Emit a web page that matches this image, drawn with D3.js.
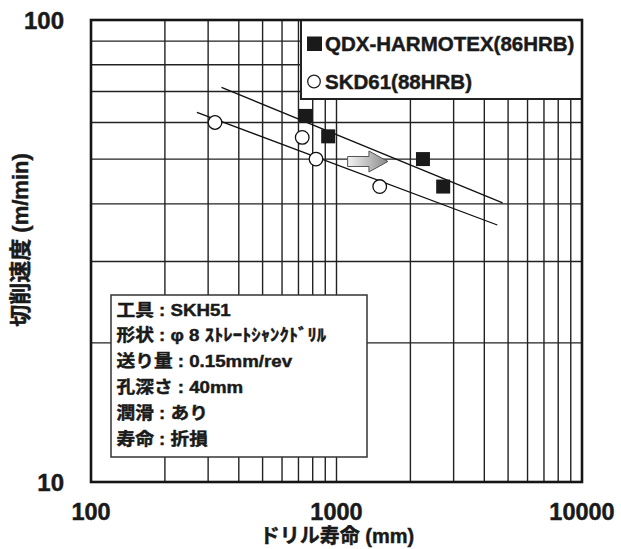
<!DOCTYPE html>
<html>
<head>
<meta charset="utf-8">
<script src="https://cdn.jsdelivr.net/npm/d3@7"></script>
<style>
  html, body { margin: 0; padding: 0; background: #fff; }
  svg { display: block; }
  text { font-family: "Liberation Sans", Arial, "Noto Sans CJK JP", sans-serif; font-weight: bold; fill: #1a1a1a; }
  text.heavy { stroke: #1a1a1a; stroke-width: 0.45; }
</style>
</head>
<body>
<svg id="chart" width="621" height="549"></svg>
<script>
// ---- data ----
const xTickLabels = [100, 1000, 10000];
const yTickLabels = [10, 100];

const qdxName = "QDX-HARMOTEX(86HRB)";
const qdxLife = [750, 925, 2250, 2720];
const qdxSpeed = [62, 56, 50, 43.6];

const skdName = "SKD61(88HRB)";
const skdLife = [320, 725, 825, 1500];
const skdSpeed = [60, 55.7, 50, 43.6];

const qdxTrendLife = [340, 4750];
const qdxTrendSpeed = [71.5, 40.2];
const skdTrendLife = [270, 4520];
const skdTrendSpeed = [63.1, 36.0];

const arrowLife = [1110, 1620];
const arrowSpeed = 49.4;

const conditionLines = [
  "工具 : SKH51",
  "形状 : φ 8 ｽﾄﾚｰﾄｼｬﾝｸﾄﾞﾘﾙ",
  "送り量 : 0.15mm/rev",
  "孔深さ : 40mm",
  "潤滑 : あり",
  "寿命 : 折損"
];

const xTitle = "ドリル寿命 (mm)";
const yTitle = "切削速度 (m/min)";

// ---- layout ----
const L = 91, R = 582, T = 20, B = 482;
const svg = d3.select("#chart");

const x = d3.scaleLog().domain([100, 10000]).range([L, R]);
const y = d3.scaleLog().domain([10, 100]).range([B, T]);

// grid
const gGrid = svg.append("g");
gGrid.selectAll("line.v").data(x.ticks()).join("line")
  .attr("x1", d => x(d)).attr("x2", d => x(d))
  .attr("y1", T).attr("y2", B)
  .attr("stroke", "#222").attr("stroke-width", 1.4);
gGrid.selectAll("line.h").data(y.ticks()).join("line")
  .attr("x1", L).attr("x2", R)
  .attr("y1", d => y(d)).attr("y2", d => y(d))
  .attr("stroke", "#222").attr("stroke-width", 1.4);

// trend lines
const line = d3.line().x(d => x(d[0])).y(d => y(d[1]));
svg.append("path")
  .attr("d", line(d3.zip(qdxTrendLife, qdxTrendSpeed)))
  .attr("fill", "none").attr("stroke", "#111").attr("stroke-width", 1.3);
svg.append("path")
  .attr("d", line(d3.zip(skdTrendLife, skdTrendSpeed)))
  .attr("fill", "none").attr("stroke", "#111").attr("stroke-width", 1.3);

// arrow
const defs = svg.append("defs");
const grad = defs.append("linearGradient").attr("id", "arrowGrad")
  .attr("x1", "0%").attr("x2", "100%").attr("y1", "0%").attr("y2", "0%");
grad.append("stop").attr("offset", "0%").attr("stop-color", "#f4f4f4");
grad.append("stop").attr("offset", "100%").attr("stop-color", "#8a8a8a");
{
  const ax0 = x(arrowLife[0]), ax1 = x(arrowLife[1]), ay = y(arrowSpeed);
  const headLen = 19, shaftH = 5, headH = 10.5;
  const pts = [
    [ax0, ay - shaftH], [ax1 - headLen, ay - shaftH], [ax1 - headLen, ay - headH],
    [ax1, ay], [ax1 - headLen, ay + headH], [ax1 - headLen, ay + shaftH], [ax0, ay + shaftH]
  ];
  svg.append("polygon")
    .attr("points", pts.map(p => p.join(",")).join(" "))
    .attr("fill", "url(#arrowGrad)").attr("stroke", "#555").attr("stroke-width", 1);
}

// markers
svg.selectAll("circle.skd").data(d3.zip(skdLife, skdSpeed)).join("circle")
  .attr("cx", d => x(d[0])).attr("cy", d => y(d[1])).attr("r", 6.8)
  .attr("fill", "#fff").attr("stroke", "#111").attr("stroke-width", 1.3);
const sq = 14;
svg.selectAll("rect.qdx").data(d3.zip(qdxLife, qdxSpeed)).join("rect")
  .attr("x", d => x(d[0]) - sq / 2).attr("y", d => y(d[1]) - sq / 2)
  .attr("width", sq).attr("height", sq).attr("fill", "#1a1a1a");

// legend
const lg = svg.append("g");
lg.append("rect").attr("x", 301).attr("y", T).attr("width", R - 301).attr("height", 79)
  .attr("fill", "#fff").attr("stroke", "#222").attr("stroke-width", 2);
lg.append("rect").attr("x", 307).attr("y", 36.5).attr("width", 15).attr("height", 14.5).attr("fill", "#1a1a1a");
lg.append("text").attr("class", "heavy").attr("x", 325).attr("y", 50.5).attr("font-size", 20.5).text(qdxName);
lg.append("circle").attr("cx", 314).attr("cy", 81.5).attr("r", 6.3)
  .attr("fill", "#fff").attr("stroke", "#222").attr("stroke-width", 1.3);
lg.append("text").attr("class", "heavy").attr("x", 325).attr("y", 88.5).attr("font-size", 20.5).text(skdName);

// condition box
const cb = svg.append("g");
cb.append("rect").attr("x", 111).attr("y", 295).attr("width", 256).attr("height", 162)
  .attr("fill", "#fff").attr("stroke", "#333").attr("stroke-width", 1.5);
conditionLines.forEach((s, i) => {
  cb.append("text").attr("class", "heavy")
    .attr("transform", `translate(116.5, ${315.5 + i * 25.9}) scale(1.1, 1)`)
    .attr("font-size", 17).text(s);
});

// plot border
svg.append("rect").attr("x", L).attr("y", T).attr("width", R - L).attr("height", B - T)
  .attr("fill", "none").attr("stroke", "#151515").attr("stroke-width", 2.6);

// tick labels
svg.selectAll("text.xt").data(xTickLabels).join("text")
  .attr("class", "heavy")
  .attr("x", d => x(d)).attr("y", 520).attr("text-anchor", "middle")
  .attr("font-size", 23.5).text(d => d);
svg.selectAll("text.yt").data(yTickLabels).join("text")
  .attr("class", "heavy")
  .attr("x", 64).attr("y", d => y(d) + 9).attr("text-anchor", "end")
  .attr("font-size", 24).text(d => d);

// axis titles
svg.append("text").attr("class", "heavy").attr("x", 337).attr("y", 543).attr("text-anchor", "middle")
  .attr("font-size", 20).text(xTitle);
svg.append("text").attr("class", "heavy").attr("transform", "translate(28, 240) rotate(-90)")
  .attr("text-anchor", "middle").attr("font-size", 22).text(yTitle);
</script>
</body>
</html>
